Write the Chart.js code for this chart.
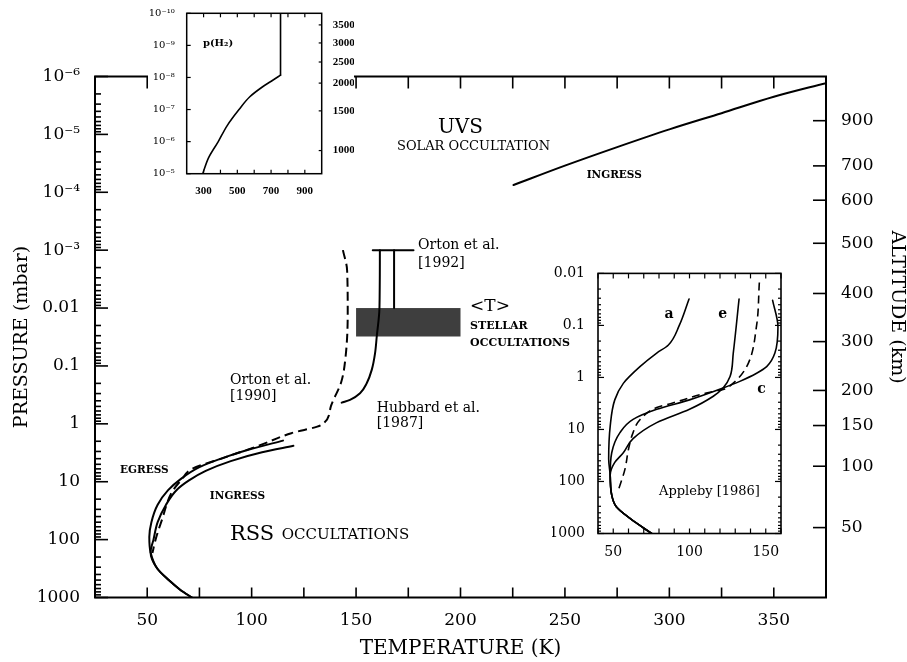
<!DOCTYPE html>
<html>
<head>
<meta charset="utf-8">
<script src="https://cdn.jsdelivr.net/npm/chart.js@4.4.1/dist/chart.umd.min.js"></script>
<style>
  html, body { margin:0; padding:0; background:#fff; }
  #wrap { position:relative; width:907px; height:662px; overflow:hidden; background:#fff; }
  canvas { position:absolute; display:block; }
  #mainChart { left:0; top:0; }
  #h2Chart { left:148px; top:0; background:#fff; }
  #applebyChart { left:552px; top:260px; }
</style>
</head>
<body>
<div id="wrap">
  <canvas id="mainChart" width="907" height="662"></canvas>
  <canvas id="h2Chart" width="206" height="195"></canvas>
  <canvas id="applebyChart" width="240" height="300"></canvas>
</div>
<script>
// ================= DATA =================
// Main chart axes
const tempTicks = [50,75,100,125,150,175,200,225,250,275,300,325,350];
const tempLabels = [50,100,150,200,250,300,350];
const pressureLabelValues = [1e-6,1e-5,1e-4,1e-3,0.01,0.1,1,10,100,1000];
const pressureLabels = ['10\u207B\u2076','10\u207B\u2075','10\u207B\u2074','10\u207B\u00B3','0.01','0.1','1','10','100','1000'];
const altitudeLabels = [900,700,600,500,400,300,200,150,100,50];
const altitudePressure = [5.8e-6,3.5e-5,1.37e-4,7.6e-4,5.6e-3,0.038,0.265,1.07,5.4,62];

// UVS solar occultation (ingress)
const uvsT = [225.4,250,275,300,325,350,375];
const uvsP = [7.5e-5,3.47e-5,1.66e-5,8.2e-6,4.3e-6,2.24e-6,1.3e-6];

// RSS occultations
const rssCommonT = [51.6,54.8,60.3,65.9,71.4];
const rssCommonP = [165,316,500,740,1000];
const rssEgressT = [115,100,87,75,66,60,55,52,51];
const rssEgressP = [1.95,2.7,3.8,5.6,9,14,25,50,90];
const rssIngressT = [120,105,90,78,70,64,59,55,53];
const rssIngressP = [2.4,3.1,4.4,6.5,9.5,14,25,50,100];

// Orton et al. [1990] (dashed)
const orton1990T = [143.7,145.7,146,145,142.9,138,133.3,119,103.2,87.3,71.4,66.7,61.9,57,54,52.5];
const orton1990P = [1e-3,2.2e-3,0.012,0.068,0.19,0.49,1.05,1.45,2.4,3.8,6.0,9,15,46,100,170];

// Hubbard et al. [1987]
const hubbardT = [161.4,161.2,159.9,159.1,157.5,155.1,151.9,147.1,143.1];
const hubbardP = [1e-3,0.01,0.031,0.060,0.117,0.199,0.296,0.386,0.43];

// Orton et al. [1992]
const orton1992BarT = [158,177.5];
const orton1992BarP = [1e-3,1e-3];
const orton1992StemT = [168.2,168.2];
const orton1992StemP = [1e-3,0.01];

// <T> stellar occultations box
const stellarBoxT = [150,200];
const stellarBoxP = [0.01,0.031];

// Inset p(H2)
const h2TempTicks = [300,400,500,600,700,800,900];
const h2TempLabels = [300,500,700,900];
const h2PressureValues = [1e-10,1e-9,1e-8,1e-7,1e-6,1e-5];
const h2PressureLabels = ['10\u207B\u00B9\u2070','10\u207B\u2079','10\u207B\u2078','10\u207B\u2077','10\u207B\u2076','10\u207B\u2075'];
const h2AltLabels = [3500,3000,2500,2000,1500,1000];
const h2AltPressure = [2.3e-10,8.4e-10,3.3e-9,1.5e-8,1.1e-7,1.9e-6];
const h2CurveT = [295,330,387,440,510,574,650,712,756];
const h2CurveP = [1e-5,3.16e-6,1e-6,3.16e-7,1e-7,4e-8,1.95e-8,1.2e-8,8.5e-9];
const h2TopT = [756,756];
const h2TopP = [8.5e-9,1e-10];

// Inset Appleby [1986]
const appTempTicks = [40,50,60,70,80,90,100,110,120,130,140,150,160];
const appTempLabels = [50,100,150];
const appPressureValues = [0.01,0.1,1,10,100,1000];
const appPressureLabels = ['0.01','0.1','1','10','100','1000'];
const appCommonT = [48,49,52,61,75.2];
const appCommonP = [75,183,306,513,1000];
const appAT = [99.7,93.3,86,78.5,67.5,56.6,51,48,47];
const appAP = [0.031,0.1,0.24,0.34,0.62,1.3,2.7,8.6,37];
const appET = [132.5,128.7,126.6,122,115.6,100,78.5,63,56.6,51];
const appEP = [0.031,0.34,0.96,1.6,2.3,4.1,7.4,15,28,43];
const appCT = [154.5,158,156,150.6,144,133,122,100,78.5,63,54.4,49];
const appCP = [0.033,0.107,0.34,0.62,0.83,1.19,1.6,2.7,4.1,6.4,11.5,28];
const appDT = [145.8,144,137.5,128.7,122,111,89,78.5,67.5,63,60,57.7,53.3];
const appDP = [0.015,0.1,0.62,1.28,1.7,2.0,3.1,3.8,6.5,11.5,24,58,148];

// ================= HELPERS =================
Chart.defaults.font.family = 'DejaVu Serif';
Chart.defaults.color = '#000';
const SERIF = 'DejaVu Serif';

const pts = (T, P) => T.map((t, i) => ({x: t, y: P[i]}));
function ds(T, P, opt) {
  return Object.assign({
    data: pts(T, P), showLine: true, pointRadius: 0, borderColor: '#000',
    borderWidth: 2, fill: false, indexAxis: 'y', cubicInterpolationMode: 'monotone',
    borderJoinStyle: 'round', borderCapStyle: 'round'
  }, opt || {});
}
function logMinorTicks(minExp, maxExp) {
  const out = [];
  for (let e = minExp; e < maxExp; e++) for (let m = 1; m <= 9; m++) out.push({value: m * Math.pow(10, e)});
  out.push({value: Math.pow(10, maxExp)});
  return out;
}
function labelFor(values, labels) {
  return (v) => {
    const i = values.findIndex(p => Math.abs(Math.log10(p) - Math.log10(v)) < 1e-6);
    return i >= 0 ? labels[i] : '';
  };
}
function seg(ctx, x1, y1, x2, y2) { ctx.beginPath(); ctx.moveTo(x1, y1); ctx.lineTo(x2, y2); ctx.stroke(); }

const frameTicks = {
  id: 'frameTicks',
  beforeDatasetsDraw(chart, args, o) {
    if (!o.box) return;
    const xs = chart.scales.x, ys = chart.scales.y, ctx = chart.ctx;
    const x1 = xs.getPixelForValue(o.box.T[0]), x2 = xs.getPixelForValue(o.box.T[1]);
    const y1 = ys.getPixelForValue(o.box.P[0]), y2 = ys.getPixelForValue(o.box.P[1]);
    ctx.save();
    ctx.fillStyle = '#3e3e3e';
    ctx.fillRect(x1, y1, x2 - x1, y2 - y1);
    ctx.restore();
  },
  afterDatasetsDraw(chart, args, o) {
    const ctx = chart.ctx, a = chart.chartArea, xs = chart.scales.x, ys = chart.scales.y;
    ctx.save();
    ctx.strokeStyle = '#000';
    ctx.lineWidth = o.lw;
    ctx.strokeRect(a.left, a.top, a.right - a.left, a.bottom - a.top);
    ctx.lineWidth = o.tw;
    for (const v of o.xTicks) {
      const px = xs.getPixelForValue(v);
      if (o.xLenBottom) seg(ctx, px, a.bottom, px, a.bottom - o.xLenBottom);
      if (o.xLenTop) seg(ctx, px, a.top, px, a.top + o.xLenTop);
    }
    for (const t of ys.ticks) {
      const py = ys.getPixelForValue(t.value);
      const major = o.yMajors.some(m => Math.abs(Math.log10(m) - Math.log10(t.value)) < 1e-6);
      const len = major ? o.yMajLen : o.yMinLen;
      if (len) seg(ctx, a.left, py, a.left + len, py);
      if (o.rightMirror) {
        const l2 = major ? o.rMajLen : o.rMinLen;
        if (l2) seg(ctx, a.right, py, a.right - l2, py);
      }
    }
    if (o.rightScale) {
      const rs = chart.scales[o.rightScale];
      for (const t of rs.ticks) {
        const py = rs.getPixelForValue(t.value);
        seg(ctx, a.right, py, a.right - o.rLen, py);
      }
    }
    ctx.restore();
    if (o.texts) {
      for (const t of o.texts) {
        ctx.save();
        ctx.font = t.font;
        ctx.fillStyle = '#000';
        ctx.textAlign = t.align || 'left';
        ctx.textBaseline = 'middle';
        ctx.fillText(t.text, xs.getPixelForValue(t.T), ys.getPixelForValue(t.p));
        ctx.restore();
      }
    }
    if (o.rotTitle) {
      const r = o.rotTitle;
      ctx.save();
      ctx.translate(r.x, r.y);
      ctx.rotate(Math.PI / 2);
      ctx.font = r.font;
      ctx.fillStyle = '#000';
      ctx.textAlign = 'center';
      ctx.textBaseline = 'middle';
      ctx.fillText(r.text, 0, 0);
      ctx.restore();
    }
  }
};

const baseOpts = { responsive: false, animation: false, events: [] };

// ================= MAIN CHART =================
new Chart(document.getElementById('mainChart'), {
  type: 'scatter',
  data: {
    datasets: [
      ds(uvsT, uvsP, {indexAxis: 'x'}),
      ds(rssEgressT.concat(rssCommonT), rssEgressP.concat(rssCommonP)),
      ds(rssIngressT.concat(rssCommonT), rssIngressP.concat(rssCommonP)),
      ds(orton1990T, orton1990P, {borderDash: [9, 5], borderCapStyle: 'butt'}),
      ds(hubbardT, hubbardP),
      ds(orton1992BarT, orton1992BarP, {cubicInterpolationMode: 'default', tension: 0, indexAxis: 'x'}),
      ds(orton1992StemT, orton1992StemP, {cubicInterpolationMode: 'default', tension: 0})
    ]
  },
  options: Object.assign({}, baseOpts, {
    layout: {padding: {top: 76.5, left: 0, right: 0, bottom: 0}},
    plugins: {
      legend: {display: false}, tooltip: {enabled: false},
      frameTicks: {
        lw: 2, tw: 1.6,
        xTicks: tempTicks, xLenBottom: 10, xLenTop: 12,
        yMajors: pressureLabelValues, yMajLen: 13, yMinLen: 6,
        rightScale: 'y2', rLen: 13,
        box: {T: stellarBoxT, P: stellarBoxP},
        texts: [
          {text: 'UVS', T: 200, p: 7.8e-6, font: '20px ' + SERIF, align: 'center'},
          {text: 'SOLAR OCCULTATION', T: 169.6, p: 1.62e-5, font: '13px ' + SERIF},
          {text: 'INGRESS', T: 260.4, p: 5.0e-5, font: 'bold 10.5px ' + SERIF},
          {text: 'Orton et al.', T: 179.7, p: 8.1e-4, font: '14px ' + SERIF},
          {text: '[1992]', T: 179.7, p: 1.66e-3, font: '14px ' + SERIF},
          {text: '<T>', T: 204.6, p: 9.5e-3, font: '17px ' + SERIF},
          {text: 'STELLAR', T: 204.6, p: 0.0204, font: 'bold 11px ' + SERIF},
          {text: 'OCCULTATIONS', T: 204.6, p: 0.040, font: 'bold 11px ' + SERIF},
          {text: 'Orton et al.', T: 89.6, p: 0.18, font: '14px ' + SERIF},
          {text: '[1990]', T: 89.6, p: 0.34, font: '14px ' + SERIF},
          {text: 'Hubbard et al.', T: 159.9, p: 0.54, font: '14px ' + SERIF},
          {text: '[1987]', T: 159.9, p: 0.98, font: '14px ' + SERIF},
          {text: 'EGRESS', T: 37, p: 6.3, font: 'bold 10.5px ' + SERIF},
          {text: 'INGRESS', T: 80, p: 18, font: 'bold 10.5px ' + SERIF},
          {text: 'RSS', T: 89.6, p: 83, font: '21px ' + SERIF},
          {text: 'OCCULTATIONS', T: 114.4, p: 83, font: '15px ' + SERIF}
        ],
        rotTitle: {text: 'ALTITUDE (km)', x: 897, y: 307, font: '19px ' + SERIF}
      }
    },
    scales: {
      x: {
        type: 'linear', position: 'bottom', min: 25, max: 375,
        afterBuildTicks: s => { s.ticks = tempLabels.map(v => ({value: v})); },
        afterFit: s => { s.height = 64.5; },
        grid: {display: false}, border: {display: false},
        ticks: {font: {size: 17}, padding: 5, autoSkip: false, maxRotation: 0},
        title: {display: true, text: 'TEMPERATURE (K)', font: {size: 20}, padding: {top: 0, bottom: 1}}
      },
      y: {
        type: 'logarithmic', position: 'left', min: 1e-6, max: 1000, reverse: true,
        afterBuildTicks: s => { s.ticks = logMinorTicks(-6, 3); },
        afterFit: s => { s.width = 95; },
        grid: {display: false}, border: {display: false},
        ticks: {font: {size: 17}, padding: 7, autoSkip: false, callback: labelFor(pressureLabelValues, pressureLabels)},
        title: {display: true, text: 'PRESSURE (mbar)', font: {size: 19}, padding: {top: 10.6, bottom: 0}}
      },
      y2: {
        type: 'logarithmic', position: 'right', min: 1e-6, max: 1000, reverse: true,
        afterBuildTicks: s => { s.ticks = altitudePressure.map(v => ({value: v})); },
        afterFit: s => { s.width = 81; },
        grid: {display: false}, border: {display: false},
        ticks: {font: {size: 17}, padding: 7, autoSkip: false, callback: (v, i) => String(altitudeLabels[i])}
      }
    }
  }),
  plugins: [frameTicks]
});

// ================= INSET p(H2) =================
new Chart(document.getElementById('h2Chart'), {
  type: 'scatter',
  data: {datasets: [
    ds(h2CurveT, h2CurveP, {borderWidth: 1.6}),
    ds(h2TopT, h2TopP, {borderWidth: 1.6, cubicInterpolationMode: 'default', tension: 0})
  ]},
  options: Object.assign({}, baseOpts, {
    layout: {padding: {top: 13.3, left: 0, right: 0, bottom: 0}},
    plugins: {
      legend: {display: false}, tooltip: {enabled: false},
      frameTicks: {
        lw: 1.5, tw: 1.2,
        xTicks: h2TempTicks, xLenBottom: 4, xLenTop: 4,
        yMajors: h2PressureValues, yMajLen: 4, yMinLen: 0,
        rightScale: 'y2', rLen: 3,
        texts: [{text: 'p(H\u2082)', T: 296, p: 8.5e-10, font: 'bold 10px ' + SERIF}]
      }
    },
    scales: {
      x: {
        type: 'linear', position: 'bottom', min: 200, max: 1000,
        afterBuildTicks: s => { s.ticks = h2TempLabels.map(v => ({value: v})); },
        afterFit: s => { s.height = 21.3; },
        grid: {display: false}, border: {display: false},
        ticks: {font: {family: 'Liberation Serif', size: 11, weight: 'bold'}, padding: 3, autoSkip: false, maxRotation: 0}
      },
      y: {
        type: 'logarithmic', position: 'left', min: 1e-10, max: 1e-5, reverse: true,
        afterBuildTicks: s => { s.ticks = h2PressureValues.map(v => ({value: v})); },
        afterFit: s => { s.width = 38.7; },
        grid: {display: false}, border: {display: false},
        ticks: {font: {family: SERIF, size: 10}, padding: 4, autoSkip: false, callback: labelFor(h2PressureValues, h2PressureLabels)}
      },
      y2: {
        type: 'logarithmic', position: 'right', min: 1e-10, max: 1e-5, reverse: true,
        afterBuildTicks: s => { s.ticks = h2AltPressure.map(v => ({value: v})); },
        afterFit: s => { s.width = 32.3; },
        grid: {display: false}, border: {display: false},
        ticks: {font: {family: 'Liberation Serif', size: 11, weight: 'bold'}, padding: 3, autoSkip: false, callback: (v, i) => String(h2AltLabels[i])}
      }
    }
  }),
  plugins: [frameTicks]
});

// ================= INSET Appleby [1986] =================
new Chart(document.getElementById('applebyChart'), {
  type: 'scatter',
  data: {
    datasets: [
      ds(appAT.concat(appCommonT), appAP.concat(appCommonP), {borderWidth: 1.6}),
      ds(appET.concat(appCommonT), appEP.concat(appCommonP), {borderWidth: 1.6}),
      ds(appCT.concat(appCommonT), appCP.concat(appCommonP), {borderWidth: 1.6}),
      ds(appDT, appDP, {borderWidth: 1.6, borderDash: [8, 5], borderCapStyle: 'butt'})
    ]
  },
  options: Object.assign({}, baseOpts, {
    layout: {padding: {top: 11, left: 0, right: 11, bottom: 0}},
    plugins: {
      legend: {display: false}, tooltip: {enabled: false},
      frameTicks: {
        lw: 1.6, tw: 1.2,
        xTicks: appTempTicks, xLenBottom: 5, xLenTop: 5,
        yMajors: appPressureValues, yMajLen: 6, yMinLen: 3,
        rightMirror: true, rMajLen: 6, rMinLen: 3,
        texts: [
          {text: 'a', T: 86.6, p: 0.06, font: 'bold 14px ' + SERIF, align: 'center'},
          {text: 'e', T: 121.8, p: 0.06, font: 'bold 14px ' + SERIF, align: 'center'},
          {text: 'c', T: 147.3, p: 1.7, font: 'bold 14px ' + SERIF, align: 'center'},
          {text: 'Appleby [1986]', T: 80, p: 160, font: '13px ' + SERIF}
        ]
      }
    },
    scales: {
      x: {
        type: 'linear', position: 'bottom', min: 40, max: 160,
        afterBuildTicks: s => { s.ticks = appTempLabels.map(v => ({value: v})); },
        afterFit: s => { s.height = 26.5; },
        grid: {display: false}, border: {display: false},
        ticks: {font: {size: 14}, padding: 2, autoSkip: false, maxRotation: 0}
      },
      y: {
        type: 'logarithmic', position: 'left', min: 0.01, max: 1000, reverse: true,
        afterBuildTicks: s => { s.ticks = logMinorTicks(-2, 3); },
        afterFit: s => { s.width = 46; },
        grid: {display: false}, border: {display: false},
        ticks: {font: {size: 14}, padding: 5, autoSkip: false, callback: labelFor(appPressureValues, appPressureLabels)}
      }
    }
  }),
  plugins: [frameTicks]
});
</script>
</body>
</html>
